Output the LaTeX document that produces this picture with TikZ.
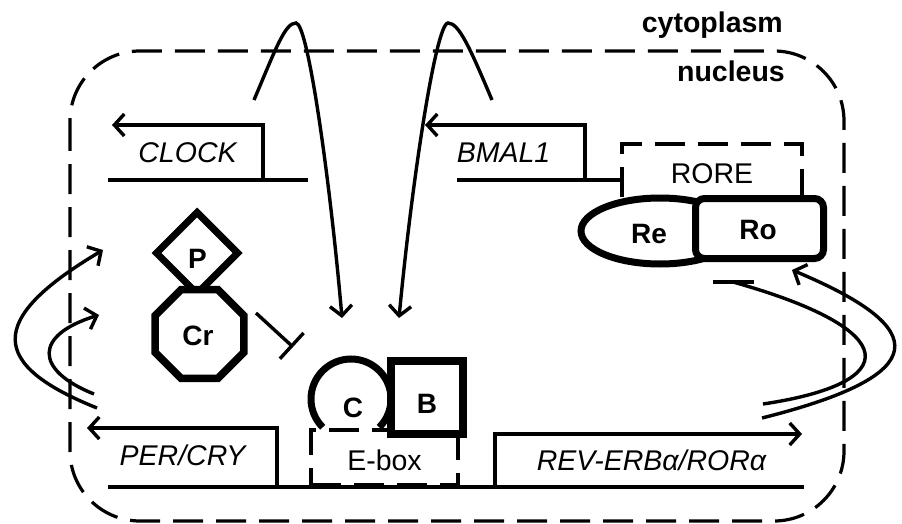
\documentclass[tikz,border=0pt]{standalone}
\usepackage{fontspec}
\setmainfont{Liberation Sans}
\usetikzlibrary{arrows.meta,shapes.geometric}
\begin{document}
\begin{tikzpicture}[x=1pt,y=-1pt,
  ln/.style={line width=3.4pt},
  arr/.style={line width=3.4pt,-{Straight Barb[length=10pt,width=22pt]}},
  dsh/.style={line width=3.2pt,dash pattern=on 30pt off 13pt},
  thk/.style={line width=7pt},
  gene/.style={font=\fontsize{28.5}{30}\selectfont\itshape, inner sep=0pt, anchor=base},
  lbl/.style={font=\fontsize{28.5}{30}\selectfont, inner sep=0pt, anchor=base},
  blbl/.style={font=\fontsize{28}{30}\selectfont\bfseries, inner sep=0pt, anchor=base},
  ttl/.style={font=\fontsize{28.5}{30}\selectfont\bfseries, inner sep=0pt, anchor=base east},
]
\useasboundingbox (0,0) rectangle (902,524);

% nucleus
\draw[dsh, rounded corners=70pt] (70,51) rectangle (844,521);
\node[ttl] (cyto) at (783,33) {cytoplasm};
\node[ttl] (nuc) at (785,82) {nucleus};

% coordinates
\coordinate (clkL) at (108,180); \coordinate (clkR) at (308,180);
\coordinate (clkS) at (263,180); \coordinate (clkK) at (263,125); \coordinate (clkT) at (112,125);
\coordinate (bmL) at (457,180); \coordinate (bmR) at (622,180);
\coordinate (bmS) at (585,180); \coordinate (bmK) at (585,125); \coordinate (bmT) at (425,125);
\coordinate (dnL) at (108,487); \coordinate (dnR) at (804,487);
\coordinate (peS) at (277,487); \coordinate (peK) at (277,428); \coordinate (peT) at (87,428);
\coordinate (rvS) at (495,487); \coordinate (rvK) at (495,434); \coordinate (rvT) at (802,434);

% top transport curves
\coordinate (m1s) at (254,100); \coordinate (m1p) at (296,23); \coordinate (m1t) at (342,318);
\coordinate (m2s) at (492,100); \coordinate (m2p) at (448,23); \coordinate (m2t) at (399,318);
\draw[arr] (m1s) .. controls (276,48) and (285,23) .. (m1p) .. controls (308,23) and (330,180) .. (m1t);
\draw[arr] (m2s) .. controls (470,48) and (459,23) .. (m2p) .. controls (436,23) and (412,180) .. (m2t);

% left feedback curves
\coordinate (l1s) at (97,408); \coordinate (l1t) at (103,250);
\coordinate (l2s) at (94,394); \coordinate (l2t) at (99,315);
\draw[arr] (l1s) .. controls (-10,365) and (-15,320) .. (l1t);
\draw[arr] (l2s) .. controls (34,370) and (34,335) .. (l2t);

% right feedback curves
\coordinate (r1s) at (733,282); \coordinate (r1e) at (763,404);
\coordinate (tbL) at (713,282); \coordinate (tbR) at (754,282);
\coordinate (r2s) at (762,418); \coordinate (r2t) at (792,270);
\draw[ln] (r1s) .. controls (904,330) and (904,383) .. (r1e);
\draw[ln] (tbL) -- (tbR);
\draw[arr] (r2s) .. controls (933,375) and (933,329) .. (r2t);

% genes
\draw[ln] (clkL) -- (clkR);
\draw[arr] (clkS) -- (clkK) -- (clkT);
\draw[ln] (bmL) -- (bmR);
\draw[arr] (bmS) -- (bmK) -- (bmT);
\draw[ln] (dnL) -- (dnR);
\draw[arr] (peS) -- (peK) -- (peT);
\draw[arr] (rvS) -- (rvK) -- (rvT);
\node[gene] (clock) at (187.5,162) {CLOCK};
\node[gene] (bmal) at (503.5,162) {BMAL1};
\node[gene] (per) at (182.5,465) {PER/CRY};
\node[gene] (rev) at (651.5,470) {REV-ERBα/RORα};

% RORE with Re / Ro
\draw[dsh] (622,197) -- (622,144) -- (802,144) -- (802,197);
\node[lbl] (rore) at (712,183) {RORE};
\node[ellipse, draw, thk, fill=white, minimum width=158pt, minimum height=66pt, inner sep=0pt] (reell) at (660,231) {};
\node[draw, thk, fill=white, rounded corners=9pt, minimum width=128pt, minimum height=60pt, inner sep=0pt] (robox) at (759.5,228.5) {};
\node[blbl] (re) at (649,243) {Re};
\node[blbl] (ro) at (758,239) {Ro};

% E-box with C / B
\node[dsh, draw, minimum width=147pt, minimum height=55pt, inner sep=0pt] (ebox) at (384.5,457.5) {};
\node[lbl] (eboxt) at (384.5,470) {E-box};
\draw[thk] (351,399) ++(135:40) arc[start angle=135, end angle=405, radius=40];
\node[draw, line width=7.5pt, fill=white, minimum width=72pt, minimum height=73pt, inner sep=0pt] (bbox) at (427,397.5) {};
\node[blbl] (c) at (353,417) {C};
\node[blbl] (b) at (427,413) {B};

% P / Cr
\node[diamond, draw, thk, fill=white, minimum width=84pt, minimum height=84pt, inner sep=0pt] (pdia) at (197,253) {};
\node[regular polygon, regular polygon sides=8, draw, line width=7.5pt, fill=white, minimum size=96pt, inner sep=0pt] (croct) at (199.5,334) {};
\node[blbl] (p) at (197.5,268) {P};
\node[blbl] (cr) at (198,345) {Cr};
\coordinate (inS) at (256,313); \coordinate (inT) at (293,347);
\draw[ln,-{Bar[width=35pt]}] (inS) -- (inT);
\end{tikzpicture}
\end{document}
